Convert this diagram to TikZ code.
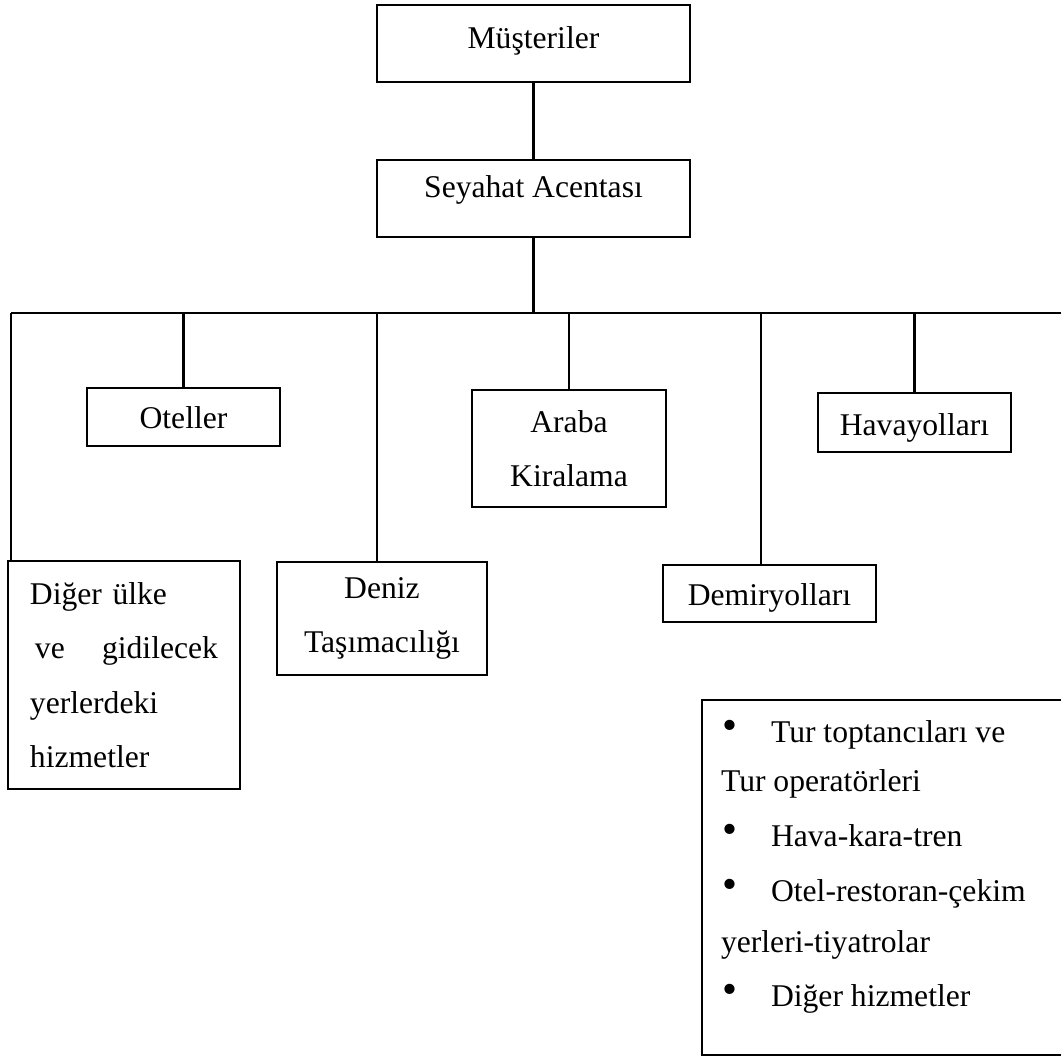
\documentclass[tikz,border=0pt]{standalone}
\usepackage{fontspec}
\usepackage{graphicx}
\setmainfont{Liberation Serif}
\newlength\pxu
\setlength\pxu{0.02cm}
\newcommand\blt{\makebox[50\pxu][l]{\hspace*{1\pxu}\raisebox{2.5\pxu}{\scalebox{1.35}{•}}}}
\begin{document}
\begin{tikzpicture}[x=0.02cm,y=-0.02cm,
  line width=1.2pt,
  box/.style={draw, line width=1.2pt, inner sep=0pt, align=center,
    font=\fontsize{18}{30.5}\selectfont},
  txt/.style={inner sep=0pt, anchor=base west, font=\fontsize{18}{21}\selectfont},
  conn/.style={line width=1.2pt}]
\useasboundingbox (0,0) rectangle (1061,1063);
\clip (0,0) rectangle (1061,1063);

% top boxes
\node[box, minimum width={313\pxu}, minimum height={77\pxu},
  text height={21\pxu}, text depth={12\pxu}] (must) at (533.5,43.5) {Müşteriler};
\node[box, minimum width={313\pxu}, minimum height={77\pxu},
  text height={21\pxu}, text depth={24\pxu}] (sey) at (533.5,198.5) {Seyahat Acentası};

% second row
\node[box, minimum width={193\pxu}, minimum height={58\pxu},
  text height={22\pxu}, text depth={0pt}] (otel) at (183.5,417) {Oteller};
\node[box, minimum width={194\pxu}, minimum height={117\pxu}] (araba) at (569,448.5) {Araba\\Kiralama};
\node[box, minimum width={193\pxu}, minimum height={59\pxu},
  text height={25\pxu}, text depth={0pt}] (hava) at (914.5,422.5) {Havayolları};

% third row
\node[box, align=left, text width={188\pxu}, minimum width={232\pxu}, minimum height={228\pxu},
  font=\fontsize{18}{31}\selectfont] (diger) at (124,675)
  {Diğer ülke\\\hspace*{5\pxu}\hbox to 183\pxu{ve\hfill gidilecek}\\yerlerdeki\\hizmetler};
\node[box, minimum width={210\pxu}, minimum height={113\pxu}] (deniz) at (382,618.5) {Deniz\\Taşımacılığı};
\node[box, minimum width={213\pxu}, minimum height={57\pxu},
  text height={23\pxu}, text depth={0pt}] (demir) at (769.5,593.5) {Demiryolları};

% right box (right side runs off the page)
\node[draw, line width=1.2pt, inner sep=0pt, minimum width={418\pxu}, minimum height={355\pxu}] (rbox) at (911,877.5) {};
\node[txt] (r1) at (720,742) {\blt Tur toptancıları ve};
\node[txt] (r2) at (720,791) {Tur operatörleri};
\node[txt] (r3) at (720,846) {\blt Hava-kara-tren};
\node[txt] (r4) at (720,901) {\blt Otel-restoran-çekim};
\node[txt] (r5) at (720,952) {yerleri-tiyatrolar};
\node[txt] (r6) at (720,1006) {\blt Diğer hizmetler};

% connectors
\coordinate (j) at (533.5,313);
\coordinate (bl) at (11,313);
\coordinate (br) at (1061,313);
\coordinate (dz) at (377,313);
\coordinate (dm) at (761,313);
\draw[conn] (must) -- (sey);
\draw[conn] (sey) -- (j);
\draw[conn] (bl) -- (br);
\draw[conn] (bl) -- (bl |- diger.north);
\draw[conn] (otel.north |- j) -- (otel.north);
\draw[conn] (dz) -- (dz |- deniz.north);
\draw[conn] (araba.north |- j) -- (araba.north);
\draw[conn] (dm) -- (dm |- demir.north);
\draw[conn] (hava.north |- j) -- (hava.north);
\end{tikzpicture}
\end{document}
